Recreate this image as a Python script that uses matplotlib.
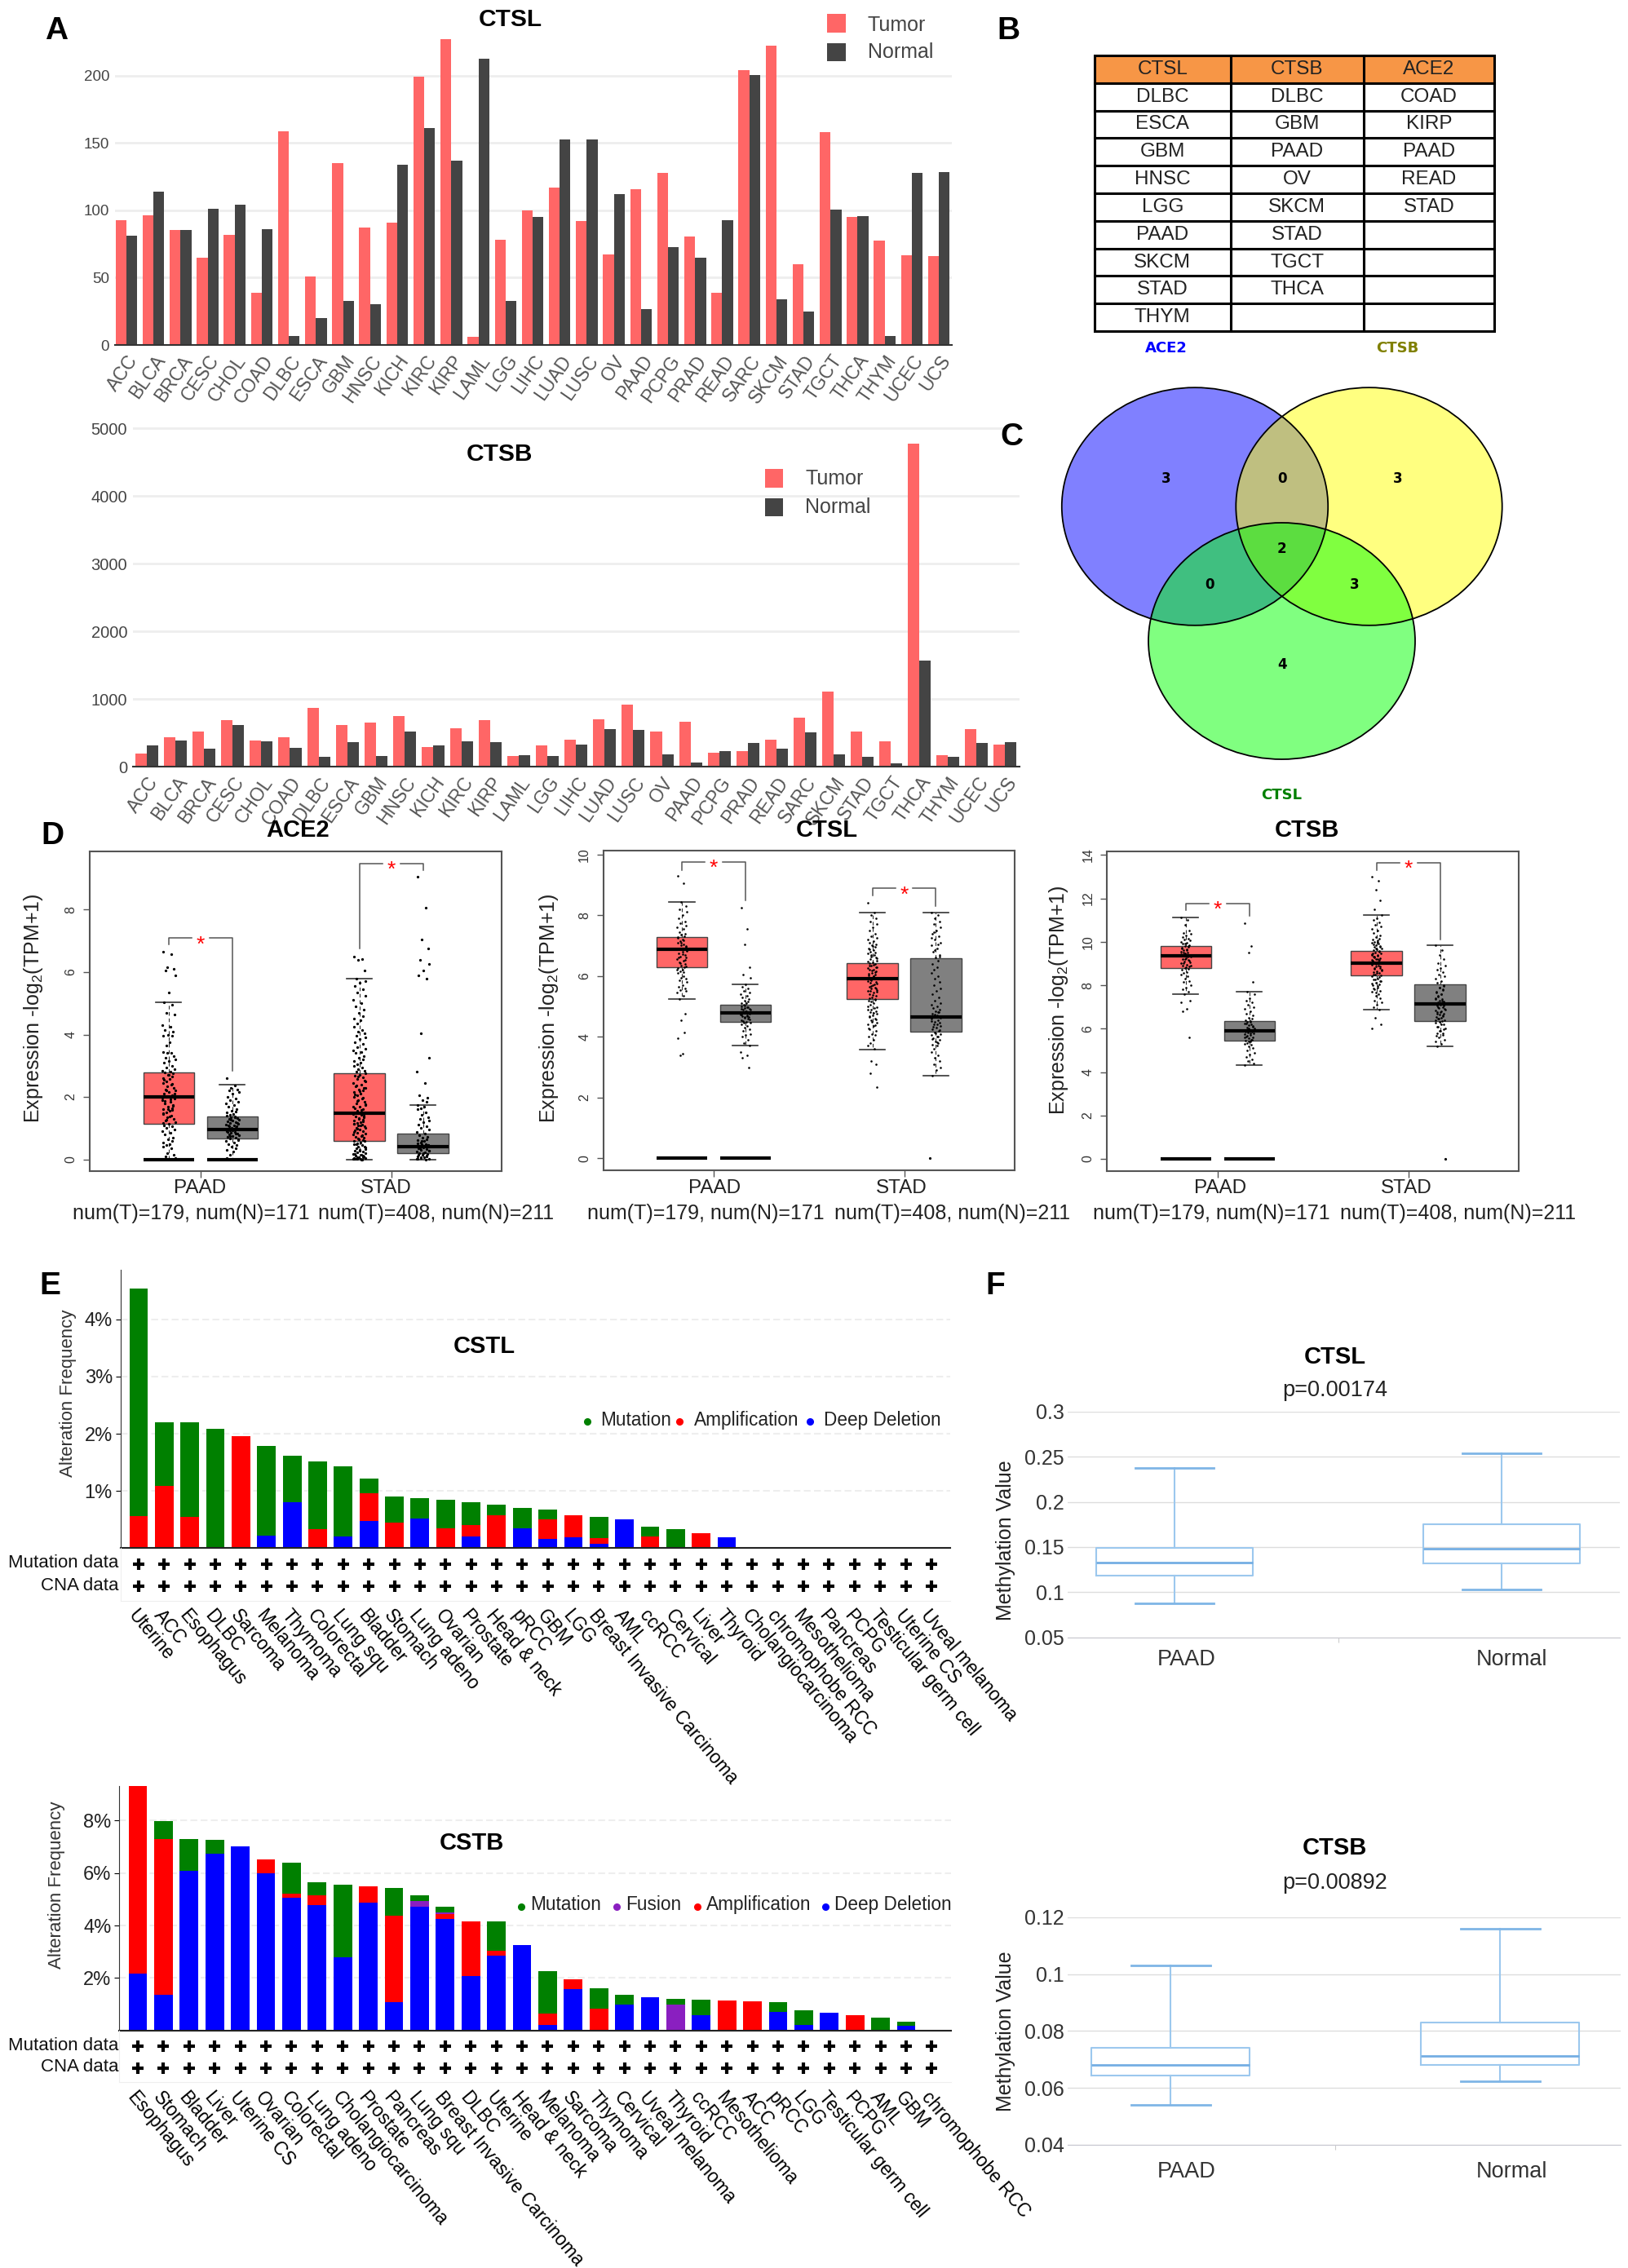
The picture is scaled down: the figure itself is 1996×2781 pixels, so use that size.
"""Composite figure: expression bars, table, Venn, boxplots, alteration bars, methylation."""
import matplotlib
matplotlib.use("Agg")
import matplotlib.pyplot as plt
import numpy as np
from matplotlib.patches import Ellipse, Rectangle

plt.rcParams["font.family"] = ["Liberation Sans", "DejaVu Sans"]
plt.rcParams["mathtext.default"] = "regular"

W, H = 1996, 2781
RED = "#FF6666"
DARK = "#444444"

# ---------- A: 表达量 ----------
TCGA = ["ACC", "BLCA", "BRCA", "CESC", "CHOL", "COAD", "DLBC", "ESCA", "GBM", "HNSC", "KICH",
        "KIRC", "KIRP", "LAML", "LGG", "LIHC", "LUAD", "LUSC", "OV", "PAAD", "PCPG", "PRAD",
        "READ", "SARC", "SKCM", "STAD", "TGCT", "THCA", "THYM", "UCEC", "UCS"]
CTSL_TUMOR = [93, 96.5, 85.7, 65, 82, 38.7, 159, 51, 135, 87, 91, 199.6, 227, 6, 78, 100, 117, 92,
              67, 115.7, 128, 80.6, 38.7, 204, 222.6, 59.7, 158, 95, 77.4, 66.5, 66]
CTSL_NORMAL = [81.5, 113.7, 85.7, 101, 104, 86, 6.6, 20, 33, 30, 133.7, 161, 137, 212.5, 33, 95,
               152.6, 153, 112, 26.6, 73, 65, 93, 200.4, 33.9, 24.6, 100.4, 95.6, 6.6, 128, 128.6]
CTSB_TUMOR = [189, 430, 514, 691, 390, 438, 868, 611, 651, 744, 293, 571, 687, 153, 318, 398, 695,
              916, 514, 659, 201, 225, 398, 727, 1109, 518, 374, 4775, 165, 555, 330]
CTSB_NORMAL = [310, 382, 269, 611, 370, 281, 145, 362, 161, 514, 313, 378, 366, 165, 161, 322, 551,
               547, 177, 64, 225, 354, 265, 510, 177, 141, 52, 1572, 141, 354, 362]

# ---------- B / C ----------
TABLE_HEAD = ["CTSL", "CTSB", "ACE2"]
TABLE_CTSL = ["DLBC", "ESCA", "GBM", "HNSC", "LGG", "PAAD", "SKCM", "STAD", "THYM"]
TABLE_CTSB = ["DLBC", "GBM", "PAAD", "OV", "SKCM", "STAD", "TGCT", "THCA", ""]
TABLE_ACE2 = ["COAD", "KIRP", "PAAD", "READ", "STAD", "", "", "", ""]
VENN_COUNTS = {"a": 3, "ab": 0, "b": 3, "abc": 2, "ac": 0, "bc": 3, "c": 4}

# ---------- D: 箱线图 (q1, med, q3, lo, hi) ----------
ACE2_STATS = [(1.13, 2.01, 2.78, 0, 5.02), (0.67, 0.97, 1.375, 0, 2.4),
              (0.59, 1.49, 2.77, 0, 5.8), (0.2, 0.4, 0.82, 0, 1.73)]
CTSL_STATS = [(6.3, 6.87, 7.29, 5.23, 8.43), (4.5, 4.78, 5.06, 3.72, 5.73),
              (5.24, 5.91, 6.43, 3.59, 8.09), (4.17, 4.66, 6.59, 2.72, 8.09)]
CTSB_STATS = [(8.79, 9.37, 9.82, 7.59, 11.12), (5.43, 5.89, 6.36, 4.32, 7.7),
              (8.44, 9.02, 9.59, 6.87, 11.23), (6.36, 7.15, 8.05, 5.18, 9.83)]

ACE2_PAAD_T = [6.65, 6.58, 6.15, 6.1, 6.05, 5.9, 5.35, 5.02, 4.95, 4.7, 4.65, 4.3, 4.25, 4.15, 4.1, 4.0,
               3.95, 3.95, 3.75, 3.65, 3.45, 3.4, 3.4, 3.3, 3.25, 3.2, 3.15, 3.1, 3.0, 2.95, 2.9, 2.85,
               2.8, 2.78, 2.75, 2.7, 2.65, 2.6, 2.58, 2.5, 2.45, 2.4, 2.35, 2.3, 2.25, 2.2, 2.15, 2.1,
               2.05, 2.0, 1.95, 1.9, 1.85, 1.8, 1.75, 1.7, 1.65, 1.6, 1.55, 1.5, 1.45, 1.4, 1.35, 1.3,
               1.25, 1.2, 1.15, 1.1, 1.05, 1.0, 0.95, 0.9, 0.85, 0.8, 0.7, 0.65, 0.6, 0.55, 0.5, 0.45,
               0.4, 0.35, 0.2, 0.15, 0.1, 0.05,
               2.72, 2.55, 2.42, 2.22, 2.12, 1.98, 1.92, 1.88, 1.72, 1.62, 1.58, 1.48, 1.38, 1.28, 1.18]
ACE2_PAAD_N = [2.6, 2.38, 2.3, 2.25, 2.2, 2.15, 2.1, 2.0, 1.95, 1.9, 1.85, 1.8, 1.75, 1.7, 1.6, 1.55, 1.52,
               1.5, 1.45, 1.42, 1.4, 1.38, 1.35, 1.33, 1.3, 1.28, 1.25, 1.22, 1.2, 1.18, 1.15, 1.12, 1.1,
               1.08, 1.05, 1.02, 1.0, 0.98, 0.95, 0.92, 0.9, 0.88, 0.85, 0.82, 0.8, 0.78, 0.75, 0.72, 0.7,
               0.68, 0.65, 0.6, 0.55, 0.5, 0.45, 0.4, 0.35, 0.3, 0.25, 0.15, 0.05,
               1.36, 1.27, 1.16, 1.06, 0.99, 0.93, 0.87, 0.83, 0.76, 0.62]
ACE2_STAD_T = [6.5, 6.42, 6.4, 6.05, 5.8, 5.72, 5.65, 5.55, 5.45, 5.35, 5.25, 5.1, 5.0, 4.9, 4.8, 4.7, 4.6,
               4.5, 4.45, 4.35, 4.25, 4.15, 4.1, 4.05, 3.95, 3.9, 3.85, 3.75, 3.7, 3.6, 3.55, 3.5, 3.45,
               3.4, 3.3, 3.25, 3.2, 3.15, 3.1, 3.05, 3.0, 2.95, 2.9, 2.85, 2.8, 2.77, 2.72, 2.68, 2.62,
               2.58, 2.5, 2.45, 2.4, 2.35, 2.3, 2.25, 2.2, 2.15, 2.1, 2.05, 2.0, 1.95, 1.9, 1.85, 1.8,
               1.75, 1.7, 1.65, 1.6, 1.55, 1.5, 1.45, 1.42, 1.38, 1.35, 1.3, 1.28, 1.25, 1.2, 1.18, 1.15,
               1.12, 1.1, 1.05, 1.02, 1.0, 0.95, 0.92, 0.9, 0.85, 0.82, 0.8, 0.75, 0.72, 0.7, 0.65, 0.62,
               0.6, 0.55, 0.52, 0.5, 0.45, 0.42, 0.4, 0.35, 0.32, 0.3, 0.28, 0.25, 0.22, 0.2, 0.18, 0.15,
               0.12, 0.1, 0.08, 0.06, 0.05, 0.03, 0.02, 0.01, 0.0,
               2.66, 2.52, 2.38, 2.28, 2.18, 2.08, 1.98, 1.88, 1.78, 1.68, 1.58, 1.48, 1.4, 1.33, 1.23, 1.14,
               1.08, 0.98, 0.88, 0.78, 0.68, 0.58, 0.48, 0.38, 0.27, 0.17, 0.11, 0.07, 0.04, 0.02, 0.0, 0.01]
ACE2_STAD_N = [9.05, 8.05, 7.05, 6.75, 6.4, 6.27, 6.05, 5.9, 5.78, 4.03, 3.25, 2.8, 2.45, 2.05, 1.98, 1.9,
               1.85, 1.75, 1.7, 1.65, 1.6, 1.5, 1.42, 1.35, 1.3, 1.25, 1.2, 1.12, 1.05, 1.0, 0.95, 0.88,
               0.82, 0.78, 0.72, 0.7, 0.65, 0.62, 0.6, 0.55, 0.52, 0.5, 0.48, 0.45, 0.42, 0.4, 0.38, 0.35,
               0.32, 0.3, 0.28, 0.25, 0.22, 0.2, 0.18, 0.15, 0.12, 0.1, 0.08, 0.05, 0.02, 0.0,
               0.58, 0.46, 0.36, 0.27, 0.19, 0.14, 0.09, 0.06, 0.03, 0.01]

CTSL_PAAD_T = [9.3, 9.05, 8.43, 8.3, 8.2, 8.1, 8.0, 7.9, 7.8, 7.75, 7.65, 7.6, 7.55, 7.45, 7.4, 7.35, 7.3,
               7.25, 7.2, 7.15, 7.1, 7.05, 7.0, 6.95, 6.9, 6.85, 6.8, 6.75, 6.7, 6.65, 6.6, 6.55, 6.5, 6.45,
               6.4, 6.35, 6.3, 6.25, 6.2, 6.15, 6.1, 6.0, 5.95, 5.9, 5.85, 5.8, 5.7, 5.65, 5.6, 5.55, 5.5,
               5.45, 5.35, 5.23, 4.75, 4.55, 4.15, 3.95, 3.45, 3.4,
               7.28, 7.18, 7.08, 6.98, 6.88, 6.82, 6.72, 6.62, 6.52, 6.42, 6.32, 6.22, 6.12]
CTSL_PAAD_N = [8.25, 7.55, 7.05, 6.3, 6.05, 5.95, 5.73, 5.65, 5.6, 5.5, 5.45, 5.4, 5.35, 5.3, 5.25, 5.2, 5.15,
               5.12, 5.1, 5.05, 5.0, 4.98, 4.95, 4.92, 4.9, 4.88, 4.85, 4.82, 4.8, 4.78, 4.75, 4.72, 4.7,
               4.68, 4.65, 4.62, 4.6, 4.55, 4.5, 4.45, 4.4, 4.35, 4.3, 4.25, 4.2, 4.1, 4.05, 4.0, 3.9, 3.8,
               3.72, 3.5, 3.4, 3.3, 3.0,
               5.04, 4.97, 4.91, 4.84, 4.79, 4.74, 4.69, 4.64, 4.58, 4.52, 4.47]
CTSL_STAD_T = [8.4, 8.09, 8.0, 7.9, 7.8, 7.7, 7.6, 7.5, 7.4, 7.3, 7.25, 7.2, 7.15, 7.1, 7.05, 7.0, 6.95, 6.9,
               6.85, 6.8, 6.75, 6.7, 6.65, 6.6, 6.55, 6.5, 6.45, 6.42, 6.4, 6.35, 6.3, 6.25, 6.22, 6.2, 6.15,
               6.1, 6.05, 6.02, 6.0, 5.95, 5.92, 5.9, 5.85, 5.8, 5.78, 5.75, 5.7, 5.65, 5.62, 5.6, 5.55,
               5.5, 5.45, 5.4, 5.35, 5.3, 5.25, 5.2, 5.1, 5.05, 5.0, 4.95, 4.9, 4.85, 4.8, 4.75, 4.7, 4.65,
               4.6, 4.55, 4.45, 4.4, 4.35, 4.25, 4.2, 4.1, 4.05, 4.0, 3.9, 3.8, 3.7, 3.6, 3.2, 3.1, 2.8, 2.35,
               6.98, 6.88, 6.78, 6.68, 6.58, 6.48, 6.38, 6.33, 6.28, 6.18, 6.12, 6.08, 5.98, 5.88, 5.83, 5.73,
               5.68, 5.58, 5.52, 5.48, 5.38, 5.28, 5.22, 5.15, 4.98, 4.88, 4.78, 4.68, 4.58, 4.48, 4.38, 4.28]
CTSL_STAD_N = [8.09, 8.0, 7.9, 7.8, 7.7, 7.6, 7.5, 7.4, 7.3, 7.2, 7.1, 7.0, 6.9, 6.8, 6.7, 6.6, 6.5, 6.4, 6.3,
               6.2, 6.1, 6.0, 5.9, 5.8, 5.7, 5.6, 5.5, 5.4, 5.3, 5.2, 5.1, 5.05, 5.0, 4.95, 4.9, 4.85, 4.8,
               4.75, 4.7, 4.65, 4.6, 4.55, 4.5, 4.45, 4.4, 4.35, 4.3, 4.25, 4.2, 4.15, 4.1, 4.05, 4.0, 3.95,
               3.9, 3.85, 3.8, 3.75, 3.7, 3.6, 3.5, 3.4, 3.3, 3.2, 3.1, 3.0, 2.9, 2.72,
               4.82, 4.72, 4.62, 4.52, 4.42, 4.32, 4.22, 4.12, 4.02, 3.92, 3.82, 7.45, 7.25, 7.05, 6.85, 6.65]

CTSB_PAAD_T = [11.12, 11.0, 10.8, 10.5, 10.4, 10.35, 10.3, 10.2, 10.15, 10.1, 10.05, 10.0, 9.95, 9.9, 9.85, 9.8,
               9.75, 9.7, 9.65, 9.6, 9.55, 9.5, 9.45, 9.4, 9.35, 9.3, 9.25, 9.2, 9.15, 9.1, 9.05, 9.0, 8.95,
               8.9, 8.85, 8.8, 8.75, 8.7, 8.6, 8.55, 8.5, 8.4, 8.3, 8.2, 8.15, 8.0, 7.9, 7.8, 7.7, 7.59, 7.3,
               7.2, 6.9, 6.8, 5.6,
               9.92, 9.82, 9.72, 9.62, 9.52, 9.42, 9.32, 9.22, 9.12, 9.02, 8.92, 8.82]
CTSB_PAAD_N = [10.85, 9.8, 9.5, 8.15, 7.7, 7.6, 7.4, 7.3, 7.2, 7.1, 7.0, 6.9, 6.8, 6.7, 6.6, 6.5, 6.45, 6.4, 6.35,
               6.3, 6.25, 6.2, 6.15, 6.1, 6.05, 6.0, 5.95, 5.9, 5.85, 5.82, 5.8, 5.75, 5.7, 5.65, 5.6, 5.55,
               5.5, 5.45, 5.4, 5.35, 5.3, 5.25, 5.2, 5.1, 5.0, 4.9, 4.8, 4.7, 4.6, 4.5, 4.4, 4.32,
               6.32, 6.22, 6.12, 6.02, 5.92, 5.87, 5.78, 5.68, 5.58, 5.48, 5.42]
CTSB_STAD_T = [13.0, 12.8, 12.4, 11.9, 11.5, 11.23, 11.1, 11.0, 10.9, 10.8, 10.7, 10.6, 10.5, 10.4, 10.3, 10.2,
               10.15, 10.1, 10.05, 10.0, 9.95, 9.9, 9.85, 9.8, 9.75, 9.7, 9.65, 9.6, 9.55, 9.5, 9.45, 9.4,
               9.35, 9.3, 9.25, 9.2, 9.15, 9.1, 9.05, 9.0, 8.95, 8.9, 8.85, 8.8, 8.75, 8.7, 8.65, 8.6, 8.55,
               8.5, 8.45, 8.4, 8.3, 8.25, 8.2, 8.1, 8.05, 8.0, 7.9, 7.8, 7.7, 7.6, 7.5, 7.4, 7.3, 7.2, 7.1,
               7.0, 6.87, 6.5, 6.2, 6.0,
               9.98, 9.88, 9.78, 9.68, 9.58, 9.48, 9.38, 9.28, 9.18, 9.08, 8.98, 8.88, 8.78, 8.68, 8.58, 8.48,
               8.38, 8.28, 8.18, 8.08, 7.95, 7.85, 7.75, 7.65, 9.02, 9.12, 9.22, 9.32, 9.42]
CTSB_STAD_N = [9.83, 9.6, 9.4, 9.2, 9.0, 8.9, 8.8, 8.7, 8.6, 8.5, 8.4, 8.3, 8.2, 8.1, 8.0, 7.9, 7.8, 7.7, 7.6, 7.5,
               7.4, 7.35, 7.3, 7.25, 7.2, 7.15, 7.1, 7.05, 7.0, 6.95, 6.9, 6.85, 6.8, 6.75, 6.7, 6.65, 6.6,
               6.55, 6.5, 6.45, 6.4, 6.35, 6.3, 6.2, 6.1, 6.0, 5.9, 5.8, 5.7, 5.6, 5.5, 5.4, 5.3, 5.18,
               7.98, 7.88, 7.78, 7.68, 7.58, 7.48, 7.38, 7.28, 7.18, 7.08, 6.98, 6.88, 6.78, 6.68, 6.58, 6.48,
               6.38, 6.28, 6.18, 6.08, 5.98, 5.88, 5.78, 5.68]

JITTER = [-0.09, 0.04, -0.02, 0.08, -0.05, 0.1, 0.01, -0.07, 0.06, -0.03, 0.09, -0.1, 0.03, -0.06,
          0.07, -0.01, 0.05, -0.08, 0.02, -0.04]

# ---------- E: 变异频率 ----------
CTSL_CANCERS = ["Uterine", "ACC", "Esophagus", "DLBC", "Sarcoma", "Melanoma", "Thymoma", "Colorectal", "Lung squ",
                "Bladder", "Stomach", "Lung adeno", "Ovarian", "Prostate", "Head & neck", "pRCC", "GBM", "LGG",
                "Breast Invasive Carcinoma", "AML", "ccRCC", "Cervical", "Liver", "Thyroid", "Cholangiocarcinoma",
                "chromophobe RCC", "Mesothelioma", "Pancreas", "PCPG", "Testicular germ cell", "Uterine CS",
                "Uveal melanoma"]
CTSL_DEL = [0, 0, 0, 0, 0, 0.22, 0.81, 0, 0.2, 0.48, 0, 0.52, 0, 0.2, 0, 0.34, 0.16, 0.19, 0.08, 0.5, 0, 0, 0, 0.19,
            0, 0, 0, 0, 0, 0, 0, 0]
CTSL_AMP = [0.56, 1.09, 0.54, 0, 1.96, 0, 0, 0.33, 0, 0.48, 0.44, 0, 0.34, 0.2, 0.57, 0, 0.34, 0.39, 0.09, 0, 0.2, 0,
            0.26, 0, 0, 0, 0, 0, 0, 0, 0, 0]
CTSL_MUT = [3.98, 1.11, 1.66, 2.08, 0, 1.57, 0.81, 1.18, 1.23, 0.25, 0.47, 0.36, 0.51, 0.4, 0.19, 0.36, 0.17, 0, 0.38,
            0, 0.18, 0.33, 0, 0, 0, 0, 0, 0, 0, 0, 0, 0]

CTSB_CANCERS = ["Esophagus", "Stomach", "Bladder", "Liver", "Uterine CS", "Ovarian", "Colorectal", "Lung adeno",
                "Cholangiocarcinoma", "Prostate", "Pancreas", "Lung squ", "Breast Invasive Carcinoma", "DLBC",
                "Uterine", "Head & neck", "Melanoma", "Sarcoma", "Thymoma", "Cervical", "Uveal melanoma", "Thyroid",
                "ccRCC", "Mesothelioma", "ACC", "pRCC", "LGG", "Testicular germ cell", "PCPG", "AML", "GBM",
                "chromophobe RCC"]
CTSB_DEL = [2.18, 1.36, 6.08, 6.74, 7.03, 6.0, 5.05, 4.78, 2.79, 4.87, 1.08, 4.72, 4.24, 2.07, 2.84, 3.25, 0.21, 1.56,
            0, 0.99, 1.25, 0, 0.59, 0, 0, 0.7, 0.19, 0.67, 0, 0, 0.16, 0]
CTSB_AMP = [7.13, 5.94, 0, 0, 0, 0.52, 0.17, 0.36, 0, 0.61, 3.28, 0, 0.21, 2.1, 0.19, 0, 0.44, 0.4, 0.82, 0, 0, 0, 0,
            1.15, 1.1, 0, 0, 0, 0.57, 0, 0, 0]
CTSB_FUS = [0, 0, 0, 0, 0, 0, 0, 0, 0, 0, 0, 0.21, 0.06, 0, 0, 0, 0, 0, 0, 0, 0, 0.98, 0, 0, 0, 0, 0, 0, 0, 0, 0, 0]
CTSB_MUT = [0, 0.68, 1.23, 0.53, 0, 0, 1.19, 0.52, 2.77, 0, 1.08, 0.21, 0.21, 0, 1.14, 0, 1.6, 0, 0.8, 0.37, 0, 0.22,
            0.59, 0, 0, 0.37, 0.59, 0, 0, 0.5, 0.18, 0]

# ---------- F: 甲基化 (q1, med, q3, lo, hi) ----------
METH_GROUPS = ["PAAD", "Normal"]
METH_CTSL = [(0.1185, 0.1325, 0.149, 0.088, 0.238), (0.132, 0.148, 0.1756, 0.103, 0.254)]
METH_CTSB = [(0.0642, 0.068, 0.0741, 0.0541, 0.1031), (0.068, 0.0712, 0.0829, 0.0624, 0.116)]

fig = plt.figure(figsize=(W / 100, H / 100), dpi=100)


def px_axes(x0, y0, x1, y1):
    """按像素 (左上原点) 建 axes。"""
    ax = fig.add_axes([x0 / W, 1 - y1 / H, (x1 - x0) / W, (y1 - y0) / H])
    ax.patch.set_alpha(0)
    return ax


def px_text(x, y, s, **kw):
    kw.setdefault("ha", "center")
    kw.setdefault("va", "center")
    return fig.text(x / W, 1 - y / H, s, **kw)


def expression_bars(box, ylim, xlim, tumor, normal, yticks, tick_size):
    ax = px_axes(*box)
    xs = np.arange(len(TCGA))
    ax.bar(xs - 0.2, tumor, 0.4, color=RED, zorder=2)
    ax.bar(xs + 0.2, normal, 0.4, color=DARK, zorder=2)
    ax.set_xlim(*xlim)
    ax.set_ylim(0, ylim)
    for s in ["top", "right", "left"]:
        ax.spines[s].set_visible(False)
    ax.spines["bottom"].set_color("#333333")
    ax.spines["bottom"].set_linewidth(1.5)
    ax.set_yticks(yticks)
    ax.tick_params(axis="y", length=0, labelsize=tick_size, labelcolor=DARK, pad=5)
    ax.grid(axis="y", color="#EEEEEE", lw=2, zorder=0)
    ax.set_xticks(xs)
    ax.set_xticklabels(TCGA, rotation=55, ha="right", rotation_mode="anchor", fontsize=16.5, color="#555555")
    ax.tick_params(axis="x", length=0, pad=6)
    return ax


def tcga_legend(patch_x, y_tumor, y_normal, text_x, text_y1, text_y2):
    ov = px_axes(0, 0, W, H)
    ov.set_xlim(0, W)
    ov.set_ylim(H, 0)
    ov.axis("off")
    ov.add_patch(Rectangle((patch_x[0], y_tumor[0]), patch_x[1] - patch_x[0], y_tumor[1] - y_tumor[0], fc=RED, ec="none"))
    ov.add_patch(Rectangle((patch_x[0], y_normal[0]), patch_x[1] - patch_x[0], y_normal[1] - y_normal[0], fc=DARK, ec="none"))
    px_text(text_x, text_y1, "Tumor", ha="left", fontsize=18, color=DARK)
    px_text(text_x, text_y2, "Normal", ha="left", fontsize=18, color=DARK)


def gepia_panel(box, ylim, yticks, stats, points, zero_bars, zero_dot, brackets, ms, spread):
    ax = px_axes(*box)
    ax.patch.set_alpha(1)
    pos = [1, 2, 4, 5]
    face = [RED, "#808080", RED, "#808080"]
    bx = [{"q1": s[0], "med": s[1], "q3": s[2], "whislo": s[3], "whishi": s[4], "fliers": []} for s in stats]
    art = ax.bxp(bx, positions=pos, widths=0.8, capwidths=0.4, patch_artist=True, showfliers=False,
                 manage_ticks=False,
                 medianprops={"color": "black", "lw": 3},
                 whiskerprops={"color": "#333333", "lw": 0.8, "ls": (0, (4, 3))},
                 capprops={"color": "#333333", "lw": 1.2},
                 boxprops={"edgecolor": "#444444", "lw": 1})
    for patch, c in zip(art["boxes"], face):
        patch.set_facecolor(c)
    for x, vals in zip(pos, points):
        jit = [JITTER[i % len(JITTER)] * spread for i in range(len(vals))]
        ax.scatter(x + np.array(jit), vals, s=ms, c="black", linewidths=0, zorder=5)
    for x in zero_bars:
        ax.plot([x - 0.4, x + 0.4], [0, 0], color="black", lw=3, solid_capstyle="butt", zorder=6)
    if zero_dot is not None:
        ax.scatter([zero_dot], [0], s=ms * 1.5, c="black", linewidths=0, zorder=6)
    for x1, y1, x2, y2, top in brackets:
        xm = (x1 + x2) / 2
        ax.plot([x1, x1, xm - 0.14], [y1, top, top], color="#555555", lw=1.1)
        ax.plot([xm + 0.14, x2, x2], [top, top, y2], color="#555555", lw=1.1)
        ax.annotate("*", (xm, top), xytext=(0, -6), textcoords="offset points", ha="center", va="center",
                    color="red", fontsize=19, annotation_clip=False)
    ax.set_xlim(-0.24, 6.235)
    ax.set_ylim(*ylim)
    ax.set_xticks([1.5, 4.5])
    ax.set_xticklabels([])
    ax.set_yticks(yticks)
    ax.tick_params(axis="y", length=6, width=1, color="#555555", labelsize=11.5, labelcolor="#333333", pad=5)
    ax.tick_params(axis="x", length=6, width=1, color="#555555")
    for lab in ax.get_yticklabels():
        lab.set_rotation(90)
        lab.set_va("center")
    for s in ax.spines.values():
        s.set_color("#555555")
        s.set_linewidth(1.5)
    return ax


def alteration_bars(box, row_box, ylim, series, names, yticks, plus_xlim):
    ax = px_axes(*box)
    xs = np.arange(len(names))
    bottom = np.zeros(len(names))
    for vals, color in series:
        ax.bar(xs, vals, 0.73, bottom=bottom, color=color, zorder=2)
        bottom = bottom + np.array(vals)
    ax.set_xlim(*plus_xlim)
    ax.set_ylim(0, ylim)
    for s in ["top", "right"]:
        ax.spines[s].set_visible(False)
    ax.spines["bottom"].set_linewidth(1.5)
    ax.spines["bottom"].set_color("#222222")
    ax.spines["left"].set_color("#333333")
    ax.set_xticks([])
    ax.set_yticks(yticks)
    ax.set_yticklabels([f"{v}%" for v in yticks])
    ax.tick_params(axis="y", labelsize=17, length=4, pad=3, labelcolor="#222222")
    ax.grid(axis="y", color="#EEEEEE", lw=1.5, ls=(0, (4, 2)), zorder=0)

    # 下方 + 号矩阵
    rows = px_axes(*row_box)
    rows.set_xlim(*plus_xlim)
    rows.set_ylim(0, 1)
    rows.plot(xs, [0.7] * len(xs), ls="", marker="+", ms=10, mew=3, color="black")
    rows.plot(xs, [0.27] * len(xs), ls="", marker="+", ms=10, mew=3, color="black")
    for s in ["top", "right"]:
        rows.spines[s].set_visible(False)
    for s in ["left", "bottom"]:
        rows.spines[s].set_color("#EEEEEE")
    rows.set_yticks([])
    rows.set_xticks(xs)
    rows.set_xticklabels(names, rotation=-50, ha="left", va="top", rotation_mode="anchor", fontsize=16.3)
    rows.tick_params(axis="x", length=0, pad=5)
    return ax


def legend_dots(items, y):
    ov = px_axes(0, 0, W, H)
    ov.set_xlim(0, W)
    ov.set_ylim(H, 0)
    ov.axis("off")
    for dot_x, text_x, label, color in items:
        ov.plot([dot_x], [y + 2], marker="o", ms=5.5, color=color, ls="")
        px_text(text_x, y, label, ha="left", fontsize=16.3, color="#222222")


def methylation_box(box, ylim, yticks, ticklabels, xlim, stats):
    ax = px_axes(*box)
    bx = [{"q1": s[0], "med": s[1], "q3": s[2], "whislo": s[3], "whishi": s[4], "fliers": []} for s in stats]
    ax.bxp(bx, positions=[0, 1], widths=0.48, capwidths=0.24, showfliers=False, manage_ticks=False,
           medianprops={"color": "#74AEE3", "lw": 2},
           whiskerprops={"color": "#9CC8EE", "lw": 1.5},
           capprops={"color": "#7FB5E6", "lw": 2},
           boxprops={"color": "#9CC8EE", "lw": 1.5})
    ax.set_xlim(*xlim)
    ax.set_ylim(*ylim)
    ax.set_yticks(yticks)
    ax.set_yticklabels(ticklabels)
    ax.tick_params(axis="y", length=0, labelsize=18, labelcolor="#333333", pad=3)
    ax.set_xticks([0.5])
    ax.set_xticklabels([])
    ax.tick_params(axis="x", length=4, color="#CCCCCC")
    ax.grid(axis="y", color="#DDDDDD", lw=1, zorder=0)
    for s in ["top", "right", "left"]:
        ax.spines[s].set_visible(False)
    ax.spines["bottom"].set_color("#C8C8D0")
    return ax


# ---- A ----
expression_bars((141, 10, 1167, 423), 250.3, (-0.42, 30.48), CTSL_TUMOR, CTSL_NORMAL, [0, 50, 100, 150, 200], 13.5)
expression_bars((163, 515, 1250, 940), 5125, (-0.487, 30.5), CTSB_TUMOR, CTSB_NORMAL, [0, 1000, 2000, 3000, 4000, 5000], 14.5)
tcga_legend((1014, 1037), (17, 40), (53, 75), 1064, 31, 64)
tcga_legend((938, 960), (575, 598), (611, 633), 987, 587, 622)
px_text(626, 24, "CTSL", fontsize=21.5, fontweight="bold")
px_text(612, 557, "CTSB", fontsize=21.5, fontweight="bold")

# ---- B ----
ax_t = px_axes(1342, 68, 1832, 406)
ax_t.axis("off")
cell_text = [TABLE_HEAD] + [list(r) for r in zip(TABLE_CTSL, TABLE_CTSB, TABLE_ACE2)]
tb = ax_t.table(cellText=cell_text, bbox=[0, 0, 1, 1], cellLoc="center",
                colWidths=[166.6 / 490, 163.4 / 490, 160 / 490])
tb.auto_set_font_size(False)
for (r, c), cell in tb.get_celld().items():
    cell.set_linewidth(2.2)
    cell.set_text_props(fontsize=17.5, color="#222222")
    if r == 0:
        cell.set_facecolor("#F79646")

# ---- C: Venn, 各区域颜色按掩膜上色 ----
ax_v = px_axes(1295, 465, 1850, 940)
ax_v.set_xlim(1295, 1850)
ax_v.set_ylim(940, 465)
ax_v.axis("off")
ELL_A = (1465, 621, 163.2, 145.8)
ELL_B = (1678.5, 621, 163.2, 145.8)
ELL_C = (1571.5, 786, 163.5, 145)
gx, gy = np.meshgrid(np.arange(1295, 1850, 0.5), np.arange(465, 940, 0.5))


def inside(e):
    return ((gx - e[0]) / e[2]) ** 2 + ((gy - e[1]) / e[3]) ** 2 <= 1


ma, mb, mc = inside(ELL_A), inside(ELL_B), inside(ELL_C)
rgba = np.ones(gx.shape + (4,))
rgba[..., 3] = 0
region_colors = [(ma & ~mb & ~mc, "#8080FF"), (mb & ~ma & ~mc, "#FFFF80"), (mc & ~ma & ~mb, "#80FF80"),
                 (ma & mb & ~mc, "#BFBF80"), (ma & mc & ~mb, "#40BF80"), (mb & mc & ~ma, "#80FF40"),
                 (ma & mb & mc, "#5CDD40")]
for mask, color in region_colors:
    rgba[mask] = matplotlib.colors.to_rgba(color)
ax_v.imshow(rgba, extent=(1295, 1850, 940, 465), aspect="auto", interpolation="bilinear")
for e in (ELL_A, ELL_B, ELL_C):
    ax_v.add_patch(Ellipse((e[0], e[1]), e[2] * 2, e[3] * 2, fc="none", ec="black", lw=1.3))
VENN_POS = {"a": (1429.4, 586.7), "ab": (1571.6, 586.7), "b": (1713.7, 586.7), "abc": (1571.6, 672.8),
            "ac": (1482.7, 717.5), "bc": (1660.4, 717.5), "c": (1571.6, 815)}
for key, (x, y) in VENN_POS.items():
    px_text(x, y, str(VENN_COUNTS[key]), fontsize=12, fontweight="bold", family="DejaVu Sans")
px_text(1429.4, 427, "ACE2", fontsize=13, fontweight="bold", family="DejaVu Sans", color="#0000FF")
px_text(1713.7, 427, "CTSB", fontsize=13, fontweight="bold", family="DejaVu Sans", color="#808000")
px_text(1571.6, 974.5, "CTSL", fontsize=13, fontweight="bold", family="DejaVu Sans", color="#008000")

# ---- D ----
y_ace2 = (-(1436 - 1421.7) / 38.3, (1421.7 - 1044) / 38.3)
gepia_panel((110, 1044, 615, 1436), y_ace2, [0, 2, 4, 6, 8], ACE2_STATS,
            [ACE2_PAAD_T, ACE2_PAAD_N, ACE2_STAD_T, ACE2_STAD_N], [1, 2], None,
            [(1, 6.88, 2, 2.83, 7.09), (4, 6.75, 5, 9.27, 9.48)], 5.5, 1.0)
y_ctsl = (-(1434.7 - 1420.3) / 37.26, (1420.3 - 1042.7) / 37.26)
gepia_panel((739.5, 1042.7, 1243.6, 1434.7), y_ctsl, [0, 2, 4, 6, 8, 10], CTSL_STATS,
            [CTSL_PAAD_T, CTSL_PAAD_N, CTSL_STAD_T, CTSL_STAD_N], [1, 2], 4.91,
            [(1, 9.49, 2, 8.49, 9.75), (4, 8.66, 5, 8.31, 8.89)], 3.5, 0.75)
y_ctsb = (-(1435.7 - 1421) / 26.62, (1421 - 1043.7) / 26.62)
gepia_panel((1357, 1043.7, 1862, 1435.7), y_ctsb, [0, 2, 4, 6, 8, 10, 12, 14], CTSB_STATS,
            [CTSB_PAAD_T, CTSB_PAAD_N, CTSB_STAD_T, CTSB_STAD_N], [1, 2], 5.08,
            [(1, 11.47, 2, 11.18, 11.77), (4, 13.31, 5, 10.12, 13.64)], 3.5, 0.75)

for x, title in [(365, "ACE2"), (1013.6, "CTSL"), (1602, "CTSB")]:
    px_text(x, 1018, title, fontsize=21, fontweight="bold")
for x, y in [(41, 1236), (673, 1236), (1298, 1226)]:
    px_text(x, y, "Expression -log$_2$(TPM+1)", rotation=90, fontsize=18, color="#222222")
for x, label in [(245, "PAAD"), (473, "STAD"), (876, "PAAD"), (1105, "STAD"), (1496, "PAAD"), (1724, "STAD")]:
    px_text(x, 1457, label, fontsize=17.5, color="#222222")
for x, label in [(234, "num(T)=179, num(N)=171"), (535, "num(T)=408, num(N)=211"),
                 (865, "num(T)=179, num(N)=171"), (1167.5, "num(T)=408, num(N)=211"),
                 (1485, "num(T)=179, num(N)=171"), (1788, "num(T)=408, num(N)=211")]:
    px_text(x, 1488, label, fontsize=18, color="#222222")

# ---- E ----
GREEN, BLUE, AMP, PURPLE = "#008000", "#0000FF", "#FF0000", "#8A1FC0"
xl_e = (-(170 - 147.7) / 31.35, (1165 - 170) / 31.35)
alteration_bars((147.7, 1557, 1165, 1898.3), (147.7, 1898.3, 1165, 1962.5), (1898.3 - 1557) / 70.1,
                [(CTSL_DEL, BLUE), (CTSL_AMP, AMP), (CTSL_MUT, GREEN)], CTSL_CANCERS, [1, 2, 3, 4], xl_e)
xl_e2 = (-(169 - 146) / 31.4, (1165.5 - 169) / 31.4)
alteration_bars((146, 2190, 1165.5, 2489.6), (146, 2489.6, 1165.5, 2553), (2489.6 - 2190) / 32.15,
                [(CTSB_DEL, BLUE), (CTSB_AMP, AMP), (CTSB_FUS, PURPLE), (CTSB_MUT, GREEN)], CTSB_CANCERS,
                [2, 4, 6, 8], xl_e2)
px_text(594, 1651, "CSTL", fontsize=21, fontweight="bold")
px_text(578, 2259.6, "CSTB", fontsize=21, fontweight="bold")
legend_dots([(720, 736, "Mutation", GREEN), (832.6, 851, "Amplification", AMP), (993, 1010, "Deep Deletion", BLUE)], 1741)
legend_dots([(639, 650.5, "Mutation", GREEN), (756, 767.6, "Fusion", PURPLE), (855, 866, "Amplification", AMP),
             (1011.7, 1023, "Deep Deletion", BLUE)], 2335.6)
px_text(84, 1708, "Alteration Frequency", rotation=90, fontsize=16, color="#333333")
px_text(70, 2311.7, "Alteration Frequency", rotation=90, fontsize=16, color="#333333")
for y, label in [(1917, "Mutation data"), (1944, "CNA data"), (2508, "Mutation data"), (2534, "CNA data")]:
    px_text(145, y, label, ha="right", fontsize=16, color="#111111")

# ---- F ----
methylation_box((1309, 1731, 1986, 2007.6), (0.05, 0.3), [0.05, 0.1, 0.15, 0.2, 0.25, 0.3],
                ["0.05", "0.1", "0.15", "0.2", "0.25", "0.3"], (-0.327, 1.3616), METH_CTSL)
methylation_box((1309, 2351, 1987, 2629.8), (0.04, 0.12), [0.04, 0.06, 0.08, 0.1, 0.12],
                ["0.04", "0.06", "0.08", "0.1", "0.12"], (-0.312, 1.366), METH_CTSB)
for y, title in [(1664.5, "CTSL"), (2266, "CTSB")]:
    px_text(1636.5, y, title, fontsize=21, fontweight="bold")
for y, label in [(1705, "p=0.00174"), (2308.5, "p=0.00892")]:
    px_text(1636.5, y, label, fontsize=19.5, color="#222222")
for y in (2035, 2663):
    px_text(1455, y, METH_GROUPS[0], fontsize=19.5, color="#333333")
    px_text(1853, y, METH_GROUPS[1], fontsize=19.5, color="#333333")
px_text(1233, 1889, "Methylation Value", rotation=90, fontsize=18, color="#222222")
px_text(1233, 2491, "Methylation Value", rotation=90, fontsize=18, color="#222222")

# ---- 面板字母 ----
for x, y, letter in [(69, 38, "A"), (1236.5, 38, "B"), (1240.6, 535.7, "C"), (64, 1025, "D"), (61, 1577, "E"), (1220, 1577, "F")]:
    px_text(x, y, letter, fontsize=28, fontweight="bold")

fig.savefig("out.png", dpi=100)
